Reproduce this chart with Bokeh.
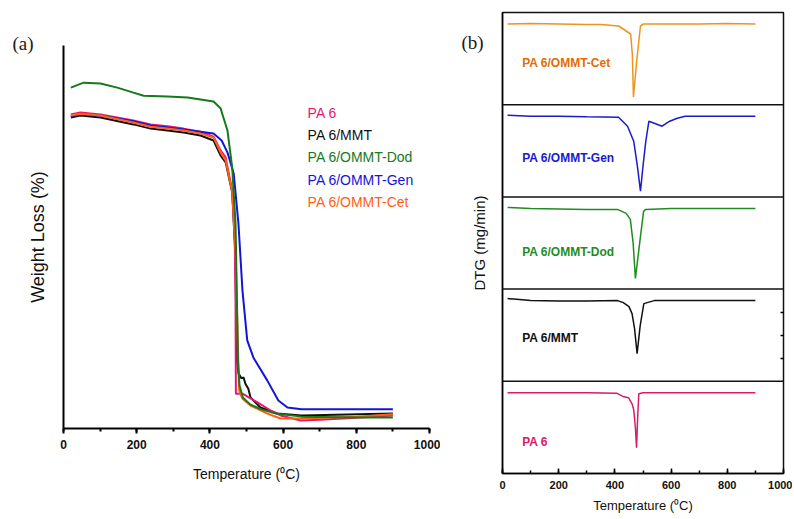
from bokeh.plotting import figure
from bokeh.models import (Range1d, SingleIntervalTicker, FixedTicker, Span,
                          LinearAxis, ColumnDataSource)
from bokeh.layouts import row
from bokeh.core.properties import value
from bokeh.embed import file_html
from bokeh.resources import INLINE

# ---------------- data: TGA (panel a) ----------------
pa6_t = [20, 46, 101, 191, 238, 284, 328, 374, 410, 429, 443, 461, 468, 470, 471, 489, 530, 566, 593, 648, 700, 765, 900]
pa6_w = [82.0, 82.5, 82.0, 80.4, 79.4, 78.9, 78.3, 77.5, 76.2, 72.6, 70.8, 62.1, 49.1, 33.4, 9.1, 9.1, 6.8, 4.7, 3.4, 2.1, 2.3, 2.6, 3.4]

mmt_t = [20, 46, 101, 191, 238, 284, 328, 374, 410, 429, 443, 461, 470, 473, 478, 486, 492, 497, 505, 511, 538, 584, 650, 900]
mmt_w = [81.2, 81.7, 81.2, 79.4, 78.3, 77.8, 77.3, 76.5, 75.2, 71.3, 69.5, 61.6, 44.6, 18.5, 14.4, 13.1, 13.3, 11.7, 10.4, 8.1, 5.5, 3.9, 3.4, 3.9]

dod_t = [20, 55, 101, 147, 191, 219, 284, 339, 410, 429, 448, 461, 470, 475, 477, 481, 490, 510, 540, 580, 650, 800, 900]
dod_w = [89.0, 90.3, 90.1, 89.0, 87.7, 86.9, 86.7, 86.4, 85.4, 83.6, 77.8, 68.1, 53.5, 27.4, 17.0, 11.2, 8.1, 6.3, 5.0, 3.9, 3.1, 2.9, 2.9]

gen_t = [20, 46, 101, 191, 238, 284, 328, 374, 410, 432, 448, 465, 478, 489, 502, 519, 557, 587, 612, 650, 900]
gen_w = [81.5, 82.0, 81.7, 80.2, 79.1, 78.6, 78.1, 77.5, 77.0, 75.2, 72.1, 66.6, 53.5, 36.0, 23.0, 18.5, 12.5, 7.3, 5.5, 5.0, 5.0]

cet_t = [20, 46, 101, 191, 238, 284, 328, 374, 410, 429, 443, 461, 470, 476, 480, 489, 511, 557, 593, 650, 800, 900]
cet_w = [81.7, 82.2, 81.7, 79.9, 78.8, 78.3, 77.8, 77.0, 76.0, 72.1, 70.0, 61.9, 46.5, 23.0, 9.9, 7.8, 6.0, 3.9, 2.6, 2.6, 3.1, 3.7]

series_names = ["PA 6", "PA 6/MMT", "PA 6/OMMT-Dod", "PA 6/OMMT-Gen", "PA 6/OMMT-Cet"]
tga_colors = ["#e8176e", "#111111", "#157a1a", "#1414d8", "#ff6014"]

# ---------------- data: DTG (panel b) ----------------
dtg_cet_t = [18, 100, 200, 300, 350, 413, 456, 462, 466, 478, 491, 502, 600, 700, 800, 900]
dtg_cet_v = [0.0, 0.05, 0.0, -0.05, -0.05, -0.2, -1.0, -3.0, -7.3, -3.6, -0.2, 0.0, 0.0, 0.0, 0.05, 0.0]

dtg_gen_t = [18, 100, 200, 300, 413, 445, 467, 480, 491, 500, 510, 521, 540, 568, 595, 622, 650, 800, 900]
dtg_gen_v = [0.1, 0.0, 0.0, -0.05, -0.1, -1.0, -2.5, -5.0, -7.5, -5.0, -2.5, -0.5, -0.7, -1.0, -0.5, -0.2, 0.0, 0.0, 0.0]

dtg_dod_t = [18, 25, 100, 200, 300, 409, 440, 455, 465, 473, 488, 502, 510, 600, 900]
dtg_dod_v = [0.1, 0.1, 0.0, -0.05, -0.1, -0.1, -0.5, -1.1, -3.5, -7.0, -3.5, -0.3, -0.1, 0.0, 0.0]

dtg_mmt_t = [18, 40, 100, 200, 300, 409, 430, 450, 461, 470, 479, 490, 503, 515, 540, 700, 900]
dtg_mmt_v = [0.2, 0.15, 0.0, -0.05, -0.05, 0.0, -0.2, -0.6, -1.3, -2.8, -5.3, -2.5, -0.3, -0.2, 0.0, 0.0, 0.0]

dtg_pa6_t = [18, 100, 300, 408, 432, 449, 461, 467, 473, 477, 481, 485, 500, 700, 900]
dtg_pa6_v = [0.0, 0.0, 0.0, -0.05, -0.4, -0.5, -1.1, -1.7, -3.5, -5.5, -2.5, -0.1, 0.0, 0.0, 0.0]

# panels from top to bottom
dtg_names = ["PA 6/OMMT-Cet", "PA 6/OMMT-Gen", "PA 6/OMMT-Dod", "PA 6/MMT", "PA 6"]
dtg_t = [dtg_cet_t, dtg_gen_t, dtg_dod_t, dtg_mmt_t, dtg_pa6_t]
dtg_v = [dtg_cet_v, dtg_gen_v, dtg_dod_v, dtg_mmt_v, dtg_pa6_v]
dtg_line_colors = ["#f0921e", "#1a1ad0", "#1f8c1f", "#111111", "#d81b6a"]
dtg_label_colors = ["#e46c00", "#1a1ad0", "#1f8c1f", "#111111", "#d81b6a"]
x_ticks_major = 200

FONT = "Liberation Sans"

# ---------------- panel (a) ----------------
p1 = figure(width=440, height=517, x_range=Range1d(0, 1000), y_range=Range1d(0, 100),
            output_backend="svg", toolbar_location=None, title="(a)",
            min_border_left=63, min_border_right=11, min_border_top=45, min_border_bottom=89)
p1.frame_align = False
p1.outline_line_color = None
p1.grid.visible = False
p1.title.align = "left"
p1.title.offset = -51
p1.title.standoff = -16
p1.title.text_font = "Liberation Serif"
p1.title.text_font_size = "19px"
p1.title.text_font_style = "normal"
p1.title.text_color = "#1a1a1a"

xa = p1.xaxis[0]
xa.ticker = SingleIntervalTicker(interval=x_ticks_major, num_minor_ticks=2)
xa.major_tick_in = 0
xa.major_tick_out = 5
xa.minor_tick_in = 0
xa.minor_tick_out = 3
xa.axis_line_width = 2
xa.major_tick_line_width = 2
xa.minor_tick_line_width = 2
xa.major_label_text_font = FONT
xa.major_label_text_font_size = "12px"
xa.major_label_text_font_style = "bold"
xa.major_label_text_color = "#111111"
xa.major_label_standoff = 6
xa.axis_label = "Temperature (\u2070C)"
xa.axis_label_text_font = FONT
xa.axis_label_text_font_size = "14px"
xa.axis_label_text_font_style = "normal"
xa.axis_label_text_color = "#111111"
xa.axis_label_standoff = 14

ya = p1.yaxis[0]
ya.ticker = FixedTicker(ticks=[])
ya.major_tick_in = 0
ya.major_tick_out = 0
ya.minor_tick_in = 0
ya.minor_tick_out = 0
ya.axis_line_width = 2
ya.axis_label = "Weight Loss (%)"
ya.axis_label_text_font = FONT
ya.axis_label_text_font_size = "18px"
ya.axis_label_text_font_style = "normal"
ya.axis_label_text_color = "#111111"
ya.axis_label_standoff = 16

tga = [(mmt_t, mmt_w, 1), (pa6_t, pa6_w, 0), (gen_t, gen_w, 3), (cet_t, cet_w, 4), (dod_t, dod_w, 2)]
for t, w, k in tga:
    p1.line(t, w, line_color=tga_colors[k], line_width=2)

legend_x = 667
legend_top = 82.5
legend_step = 5.85
leg_src = ColumnDataSource(dict(
    x=[legend_x] * len(series_names),
    y=[legend_top - i * legend_step for i in range(len(series_names))],
    text=series_names, color=tga_colors))
p1.text(x="x", y="y", text="text", text_color="color", source=leg_src,
        text_font=value(FONT), text_font_size="14px",
        text_baseline="middle", text_align="left")

# ---------------- panel (b) ----------------
n = len(dtg_names)
panel_h = 9.22
total_h = panel_h * n
base_gap = 1.15

p2 = figure(width=352, height=517, x_range=Range1d(0, 1000), y_range=Range1d(0, total_h),
            output_backend="svg", toolbar_location=None, title="(b)",
            min_border_left=62, min_border_right=9, min_border_top=12, min_border_bottom=44)
p2.frame_align = False
p2.grid.visible = False
p2.outline_line_color = "#111111"
p2.outline_line_width = 1.5
p2.title.align = "left"
p2.title.offset = -41
p2.title.standoff = -80
p2.title.text_font = "Liberation Serif"
p2.title.text_font_size = "19px"
p2.title.text_font_style = "normal"
p2.title.text_color = "#1a1a1a"

xb = p2.xaxis[0]
xb.ticker = SingleIntervalTicker(interval=x_ticks_major, num_minor_ticks=2)
xb.major_tick_in = 5
xb.major_tick_out = 0
xb.minor_tick_in = 3
xb.minor_tick_out = 0
xb.axis_line_width = 1.5
xb.major_tick_line_width = 1.5
xb.minor_tick_line_width = 1.5
xb.major_label_text_font = FONT
xb.major_label_text_font_size = "11px"
xb.major_label_text_font_style = "bold"
xb.major_label_text_color = "#111111"
xb.major_label_standoff = 7
xb.axis_label = "Temperature (\u2070C)"
xb.axis_label_text_font = FONT
xb.axis_label_text_font_size = "13px"
xb.axis_label_text_font_style = "normal"
xb.axis_label_text_color = "#111111"
xb.axis_label_standoff = 6

yb = p2.yaxis[0]
yb.ticker = FixedTicker(ticks=[])
yb.major_tick_in = 0
yb.major_tick_out = 0
yb.minor_tick_in = 0
yb.minor_tick_out = 0
yb.axis_line_width = 1.5
yb.axis_label = "DTG (mg/min)"
yb.axis_label_text_font = FONT
yb.axis_label_text_font_size = "15px"
yb.axis_label_text_font_style = "normal"
yb.axis_label_text_color = "#111111"
yb.axis_label_standoff = 15

label_x = 70
label_drop = [-3.9, -4.2, -4.4, -3.7, -4.9]
for i in range(n):
    top = total_h - i * panel_h
    base = top - base_gap
    if i > 0:
        p2.add_layout(Span(location=top, dimension="width", line_color="#111111", line_width=1.5))
    p2.line(dtg_t[i], [v + base for v in dtg_v[i]], line_color=dtg_line_colors[i], line_width=1.5)
    p2.text(x=[label_x], y=[base + label_drop[i]], text=[dtg_names[i]],
            text_color=dtg_label_colors[i], text_font=value(FONT), text_font_size="12px",
            text_font_style="bold", text_baseline="middle", text_align="left")

# small right-edge ticks in the PA 6/MMT panel
mmt_base = total_h - 3 * panel_h - base_gap
rticks = [mmt_base - 1.2, mmt_base - 3.5, mmt_base - 5.8]
ra = LinearAxis(ticker=FixedTicker(ticks=rticks),
                major_label_overrides={t: "" for t in rticks},
                major_tick_in=3, major_tick_out=0, minor_tick_in=0, minor_tick_out=0,
                major_label_standoff=0, axis_line_color=None, major_tick_line_width=1.5)
p2.add_layout(ra, "right")

layout = row(p1, p2)
open("out.html", "w").write(file_html(layout, INLINE))
